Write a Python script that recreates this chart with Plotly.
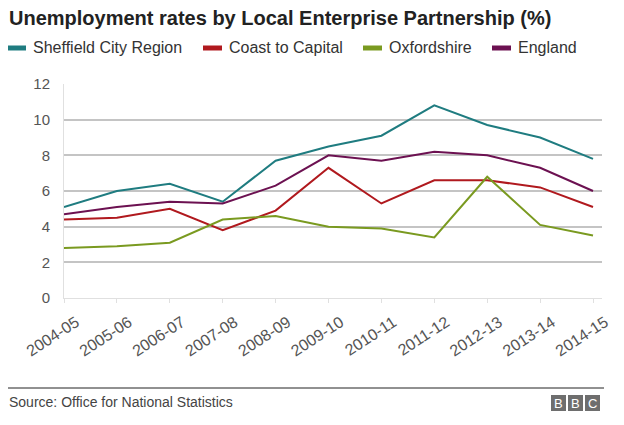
import plotly.graph_objects as go

categories = ["2004-05", "2005-06", "2006-07", "2007-08", "2008-09", "2009-10",
              "2010-11", "2011-12", "2012-13", "2013-14", "2014-15"]
sheffield = [5.1, 6.0, 6.4, 5.4, 7.7, 8.5, 9.1, 10.8, 9.7, 9.0, 7.8]
coast = [4.4, 4.5, 5.0, 3.8, 4.9, 7.3, 5.3, 6.6, 6.6, 6.2, 5.1]
oxfordshire = [2.8, 2.9, 3.1, 4.4, 4.6, 4.0, 3.9, 3.4, 6.8, 4.1, 3.5]
england = [4.7, 5.1, 5.4, 5.3, 6.3, 8.0, 7.7, 8.2, 8.0, 7.3, 6.0]
y_ticks = [0, 2, 4, 6, 8, 10, 12]

series = [
    ("Sheffield City Region", sheffield, "#1f7c80"),
    ("Coast to Capital", coast, "#b0191e"),
    ("Oxfordshire", oxfordshire, "#7a9a20"),
    ("England", england, "#6c1151"),
]

# page body has an 8px margin; reference coordinates below are screenshot pixels
OFF = 8
W, H = 624 - OFF, 425 - OFF
PL, PR, PT, PB = 64, 602, 84, 298  # plot area in screenshot pixels
L, R, T, B = PL - OFF, (W + OFF) - PR, PT - OFF, (H + OFF) - PB
PW, PH = PR - PL, PB - PT

def px(x):
    return (x - PL) / PW

def py(y):
    return (PB - y) / PH

fig = go.Figure()
for name, vals, col in series:
    fig.add_trace(go.Scatter(x=categories, y=vals, mode="lines", name=name,
                             line=dict(color=col, width=2), showlegend=False))

shapes = []
annotations = []
font = "Liberation Sans, Arial, sans-serif"

# title
annotations.append(dict(text="<b>Unemployment rates by Local Enterprise Partnership (%)</b>",
                        x=px(7), y=py(18), xref="paper", yref="paper",
                        xanchor="left", yanchor="middle", showarrow=False,
                        font=dict(family=font, size=20, color="#222222")))

# legend
leg_x = [7, 203, 363, 492]
for (name, vals, col), lx in zip(series, leg_x):
    shapes.append(dict(type="line", xref="paper", yref="paper",
                       x0=px(lx), x1=px(lx + 19), y0=py(48), y1=py(48),
                       line=dict(color=col, width=5)))
    annotations.append(dict(text=name, x=px(lx + 24), y=py(48), xref="paper", yref="paper",
                            xanchor="left", yanchor="middle", showarrow=False,
                            font=dict(family=font, size=16, color="#333333")))

# footer line
shapes.append(dict(type="line", xref="paper", yref="paper",
                   x0=px(8), x1=px(604), y0=py(388), y1=py(388),
                   line=dict(color="#222222", width=1)))
annotations.append(dict(text="Source: Office for National Statistics", x=px(7), y=py(402),
                        xref="paper", yref="paper", xanchor="left", yanchor="middle",
                        showarrow=False, font=dict(family=font, size=14, color="#444444")))

# BBC blocks
for i, letter in enumerate(["B", "B", "C"]):
    x0 = 551 + i * 17
    shapes.append(dict(type="rect", xref="paper", yref="paper",
                       x0=px(x0), x1=px(x0 + 15), y0=py(411), y1=py(395),
                       fillcolor="#6e6e6e", line=dict(width=0)))
    annotations.append(dict(text=letter, x=px(x0 + 7.5), y=py(403), xref="paper", yref="paper",
                            xanchor="center", yanchor="middle", showarrow=False,
                            font=dict(family=font, size=13, color="#ffffff")))

fig.update_layout(
    width=W, height=H,
    margin=dict(l=L, r=R, t=T, b=B, pad=0, autoexpand=False),
    paper_bgcolor="white", plot_bgcolor="white",
    shapes=shapes, annotations=annotations,
    showlegend=False,
    xaxis=dict(type="category", range=[0, 10.17], tickangle=-33, automargin=False,
               tickfont=dict(family=font, size=16, color="#555555"),
               ticklabelshift=12, ticklabelstandoff=4,
               showgrid=False, zeroline=False, showline=True, linecolor="#e0e0e0",
               ticks="outside", ticklen=4, tickcolor="#e0e0e0"),
    yaxis=dict(range=[0, 12], tickvals=y_ticks, automargin=False,
               tickfont=dict(family=font, size=15, color="#555555"),
               showgrid=True, gridcolor="#c4c4c4", gridwidth=1.6,
               zeroline=False, showline=True, linecolor="#e0e0e0",
               ticks="", ticklabelstandoff=10),
)

fig.write_html("out.html")
